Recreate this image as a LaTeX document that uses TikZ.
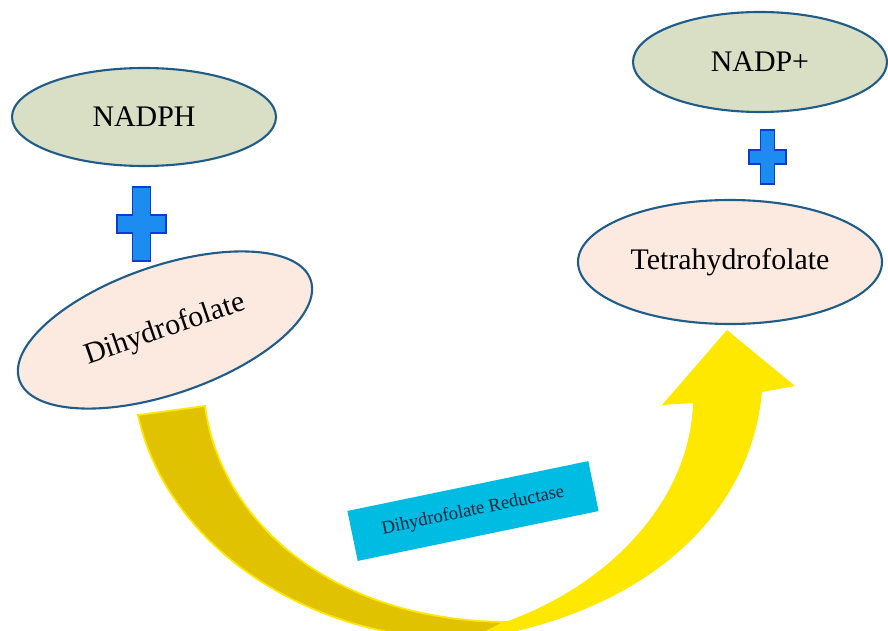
\documentclass[tikz,border=0pt]{standalone}
\usepackage{fontspec}
\setmainfont{Liberation Serif}
\usetikzlibrary{shapes.geometric}
\definecolor{ringblue}{HTML}{1F5C8A}
\definecolor{sage}{HTML}{D8DFC4}
\definecolor{peach}{HTML}{FCE9DF}
\definecolor{plusblue}{HTML}{1C8CF0}
\definecolor{plusedge}{HTML}{0A3CD6}
\definecolor{enzcyan}{HTML}{00BCE3}
\definecolor{inktext}{HTML}{14243A}
\definecolor{darkgold}{HTML}{E0C200}
\definecolor{brightgold}{HTML}{FFE800}
\tikzset{cofactor/.style = {ellipse, draw=ringblue, fill=sage, line width=1.2pt,
                            font=\fontsize{17}{20}\selectfont},
         substrate/.style = {cofactor, fill=peach},
         enzyme/.style = {fill=enzcyan, text=inktext, font=\fontsize{10.6}{12}\selectfont},
         pics/plus/.style n args = {3}{code = {
           \draw [fill=plusblue, draw=plusedge, line width=0.8pt]
             (-#3,#2) -- (#3,#2) -- (#3,#3) -- (#1,#3) -- (#1,-#3) -- (#3,-#3) -- (#3,-#2)
             -- (-#3,-#2) -- (-#3,-#3) -- (-#1,-#3) -- (-#1,#3) -- (-#3,#3) -- cycle;}}}

\begin{document}
\begin{tikzpicture}
  \useasboundingbox (0, 0) rectangle (17.76, -12.62);
  \clip (0, 0) rectangle (17.76, -12.62);

  \node [cofactor, minimum width=5.28cm, minimum height=1.96cm] (nadph) at (2.88, -2.34) {NADPH};
  \node [cofactor, minimum width=5.08cm, minimum height=2cm] (nadp) at (15.2, -1.24) {NADP+};
  \node [substrate, rotate=19, minimum width=6.16cm, minimum height=2.56cm] (dhf) at (3.3, -6.6)
        {Dihydrofolate};
  \node [substrate, minimum width=6.08cm, minimum height=2.48cm] (thf) at (14.6, -5.24) {Tetrahydrofolate};

  \pic at (2.83, -4.48) {plus={0.49}{0.74}{0.18}};
  \pic at (15.35, -3.14) {plus={0.37}{0.54}{0.14}};

  \draw [fill=darkgold, draw=brightgold, line width=1pt]
    (2.76, -8.3) -- (4.1, -8.12) .. controls (4.4, -10.4) and (6.6, -12.4) .. (10.1, -12.44)
    -- (9.4, -12.8) .. controls (6, -12.8) and (3.3, -10.8) .. cycle;
  \fill [brightgold]
    (10.1, -12.44) .. controls (12.2, -11.7) and (13.8, -10) .. (13.86, -8.06)
    -- (13.24, -8.1) -- (14.54, -6.6) -- (15.9, -7.72) -- (15.24, -7.84)
    .. controls (15, -10.4) and (12.8, -12.3) .. (9.4, -12.8) -- cycle;

  \node [enzyme, rotate=11.7, minimum width=4.92cm, minimum height=1.02cm] (dhfr) at (9.46, -10.22)
        {Dihydrofolate Reductase};
\end{tikzpicture}
\end{document}
